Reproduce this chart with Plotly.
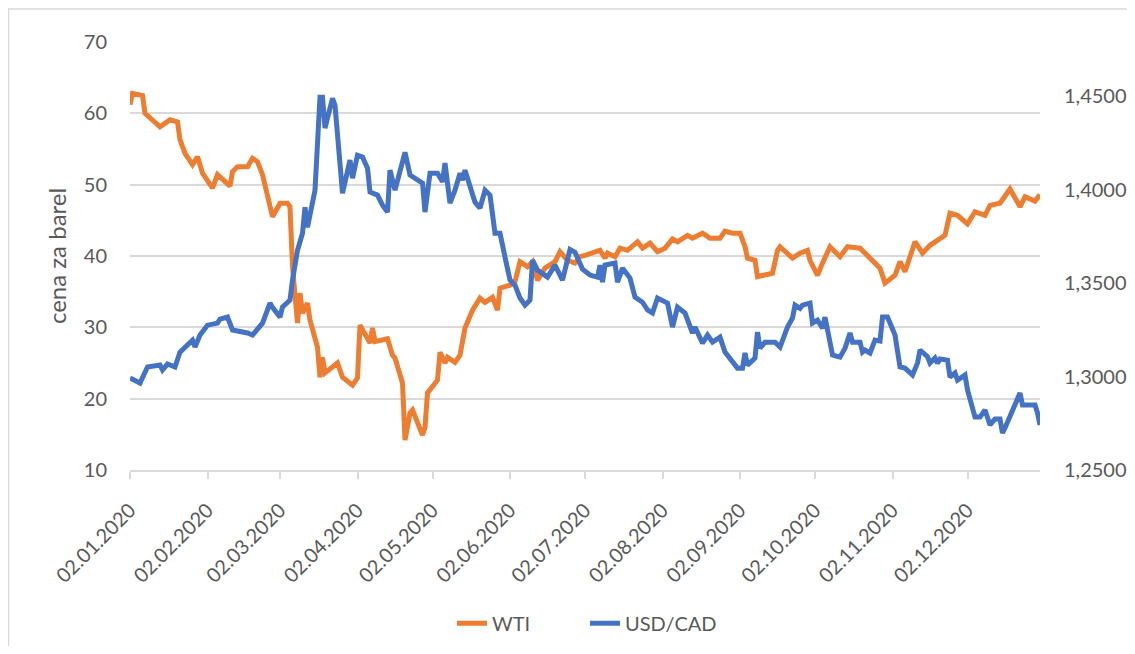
import plotly.graph_objects as go

# WTI (USD za barel), odczyt z wykresu
wti_days = ['01-02', '01-03', '01-07', '01-08', '01-14', '01-18', '01-21', '01-22', '01-24', '01-27',
            '01-29', '01-30', '01-31', '02-04', '02-06', '02-11', '02-12', '02-14', '02-18', '02-20',
            '02-22', '02-24', '02-26', '02-28', '03-02', '03-05', '03-06', '03-07', '03-09', '03-10',
            '03-11', '03-13', '03-14', '03-17', '03-18', '03-19', '03-20', '03-25', '03-27', '03-31',
            '04-02', '04-03', '04-07', '04-08', '04-09', '04-14', '04-16', '04-17', '04-20', '04-21',
            '04-23', '04-24', '04-28', '04-29', '04-30', '05-04', '05-05', '05-07', '05-08', '05-11',
            '05-13', '05-15', '05-18', '05-21', '05-23', '05-26', '05-28', '05-29', '06-02', '06-04',
            '06-06', '06-09', '06-11', '06-13', '06-16', '06-20', '06-22', '06-25', '06-28', '06-30',
            '07-02', '07-08', '07-10', '07-11', '07-14', '07-16', '07-19', '07-23', '07-25', '07-28',
            '07-31', '08-03', '08-06', '08-08', '08-12', '08-14', '08-18', '08-21', '08-25', '08-27',
            '08-30', '09-02', '09-04', '09-05', '09-08', '09-09', '09-15', '09-17', '09-18', '09-23',
            '09-26', '09-29', '09-30', '10-03', '10-05', '10-08', '10-12', '10-15', '10-20', '10-22',
            '10-27', '10-28', '10-30', '11-03', '11-05', '11-07', '11-11', '11-14', '11-17', '11-21',
            '11-23', '11-25', '11-28', '12-02', '12-05', '12-09', '12-11', '12-15', '12-19', '12-23',
            '12-25', '12-29', '12-31']
wti = [61.2, 62.8, 62.5, 60.0, 58.1, 59.1, 58.8, 56.3, 54.4, 52.8,
       53.9, 52.8, 51.6, 49.5, 51.4, 49.8, 51.8, 52.5, 52.5, 53.7,
       53.2, 51.4, 48.3, 45.5, 47.4, 47.4, 46.9, 38.5, 30.6, 34.8,
       32.0, 33.4, 31.0, 27.2, 23.0, 25.8, 23.6, 25.0, 23.0, 21.9,
       22.9, 30.3, 27.8, 29.9, 28.0, 28.4, 26.1, 25.7, 22.2, 14.2,
       18.0, 18.4, 14.9, 16.0, 20.8, 22.6, 26.5, 25.0, 25.8, 25.1,
       26.1, 29.9, 32.4, 34.1, 33.5, 34.2, 32.4, 35.5, 35.9, 36.4,
       39.2, 38.5, 39.2, 36.6, 38.3, 39.2, 40.6, 39.4, 39.0, 39.9,
       40.1, 40.8, 39.7, 40.4, 39.9, 41.1, 40.8, 42.0, 41.1, 41.8,
       40.6, 41.1, 42.4, 42.0, 42.9, 42.5, 43.2, 42.5, 42.5, 43.5,
       43.2, 43.2, 41.3, 39.7, 39.4, 37.1, 37.6, 40.8, 41.3, 39.7,
       40.4, 40.8, 39.4, 37.3, 39.0, 41.3, 39.9, 41.3, 41.1, 40.4,
       38.7, 38.3, 36.2, 37.3, 39.2, 37.8, 42.0, 40.4, 41.5, 42.5,
       42.9, 46.0, 45.7, 44.5, 46.2, 45.7, 47.1, 47.4, 49.4, 46.9,
       48.3, 47.7, 48.6]

# kurs USD/CAD
usd_days = ['01-02', '01-06', '01-09', '01-14', '01-15', '01-17', '01-20', '01-22', '01-27', '01-28',
            '01-30', '02-02', '02-06', '02-07', '02-10', '02-12', '02-18', '02-20', '02-24', '02-27',
            '02-28', '03-02', '03-03', '03-06', '03-07', '03-09', '03-11', '03-12', '03-13', '03-16',
            '03-18', '03-19', '03-20', '03-23', '03-24', '03-26', '03-27', '03-30', '03-31', '04-02',
            '04-04', '04-06', '04-07', '04-10', '04-12', '04-14', '04-15', '04-17', '04-19', '04-21',
            '04-23', '04-24', '04-28', '04-29', '05-01', '05-04', '05-06', '05-07', '05-09', '05-11',
            '05-13', '05-14', '05-15', '05-19', '05-21', '05-23', '05-25', '05-27', '05-29', '05-31',
            '06-02', '06-04', '06-06', '06-08', '06-10', '06-11', '06-13', '06-17', '06-20', '06-23',
            '06-26', '06-28', '07-01', '07-04', '07-07', '07-08', '07-09', '07-10', '07-14', '07-15',
            '07-17', '07-20', '07-22', '07-25', '07-27', '07-29', '07-31', '08-04', '08-06', '08-08',
            '08-11', '08-14', '08-15', '08-18', '08-20', '08-22', '08-25', '08-27', '08-29', '09-01',
            '09-03', '09-04', '09-05', '09-08', '09-09', '09-10', '09-12', '09-16', '09-18', '09-21',
            '09-23', '09-24', '09-26', '09-27', '09-30', '10-01', '10-03', '10-05', '10-06', '10-09',
            '10-12', '10-14', '10-16', '10-17', '10-20', '10-21', '10-22', '10-24', '10-26', '10-28',
            '10-29', '10-31', '11-03', '11-04', '11-05', '11-07', '11-10', '11-12', '11-13', '11-16',
            '11-17', '11-19', '11-20', '11-21', '11-24', '11-25', '11-27', '11-28', '12-01', '12-02',
            '12-05', '12-07', '12-09', '12-11', '12-13', '12-15', '12-16', '12-17', '12-19', '12-20',
            '12-23', '12-24', '12-29', '12-30', '12-31']
usdcad = [1.2992, 1.2965, 1.3051, 1.3062, 1.3035, 1.3067, 1.3051, 1.3131, 1.3195, 1.3158,
          1.3222, 1.3275, 1.3286, 1.3307, 1.3318, 1.3249, 1.3233, 1.3222, 1.3286, 1.3393,
          1.3370, 1.3318, 1.3372, 1.3409, 1.3516, 1.3676, 1.3767, 1.3906, 1.3799, 1.3997,
          1.4495, 1.4495, 1.4329, 1.4489, 1.4452, 1.4142, 1.3981, 1.4158, 1.4061, 1.4184,
          1.4175, 1.4115, 1.3987, 1.3971, 1.3917, 1.3880, 1.4104, 1.3997, 1.4088, 1.4200,
          1.4078, 1.4070, 1.4035, 1.3880, 1.4088, 1.4088, 1.4042, 1.4142, 1.3928, 1.3997,
          1.4088, 1.4051, 1.4104, 1.3933, 1.3901, 1.3997, 1.3971, 1.3767, 1.3767, 1.3639,
          1.3516, 1.3489, 1.3420, 1.3382, 1.3409, 1.3623, 1.3570, 1.3532, 1.3596, 1.3516,
          1.3680, 1.3665, 1.3575, 1.3543, 1.3532, 1.3596, 1.3505, 1.3596, 1.3607, 1.3505,
          1.3580, 1.3527, 1.3425, 1.3398, 1.3356, 1.3340, 1.3420, 1.3393, 1.3265, 1.3372,
          1.3340, 1.3233, 1.3265, 1.3179, 1.3222, 1.3184, 1.3211, 1.3131, 1.3100, 1.3045,
          1.3045, 1.3126, 1.3061, 1.3099, 1.3238, 1.3152, 1.3184, 1.3184, 1.3158, 1.3265,
          1.3313, 1.3382, 1.3365, 1.3382, 1.3393, 1.3286, 1.3302, 1.3259, 1.3318, 1.3115,
          1.3104, 1.3152, 1.3233, 1.3184, 1.3184, 1.3131, 1.3142, 1.3126, 1.3195, 1.3190,
          1.3318, 1.3318, 1.3222, 1.3131, 1.3051, 1.3045, 1.3008, 1.3072, 1.3142, 1.3106,
          1.3072, 1.3099, 1.3072, 1.3094, 1.3088, 1.2997, 1.3019, 1.2981, 1.3008, 1.2928,
          1.2783, 1.2783, 1.2821, 1.2741, 1.2773, 1.2773, 1.2698, 1.2725, 1.2783, 1.2821,
          1.2912, 1.2848, 1.2848, 1.2805, 1.2741]

month_ticks = ['2020-%02d-02' % m for m in range(1, 13)]
month_labels = ['02.%02d.2020' % m for m in range(1, 13)]
right_ticks = [1.25, 1.30, 1.35, 1.40, 1.45]
right_labels = ['1,2500', '1,3000', '1,3500', '1,4000', '1,4500']

FONT = 'Lato'
GREY = '#595959'
GRID = '#d9d9d9'

fig = go.Figure()
fig.add_trace(go.Scatter(x=['2020-' + d for d in wti_days], y=wti, name='WTI', mode='lines',
                         line=dict(color='#ED7D31', width=5)))
fig.add_trace(go.Scatter(x=['2020-' + d for d in usd_days], y=usdcad, name='USD/CAD', mode='lines',
                         line=dict(color='#4472C4', width=5), yaxis='y2'))

# strona ma 8px marginesu body, stad przesuniecie
fig.update_layout(
    width=1119, height=638,
    margin=dict(l=122, r=87, t=34, b=176, autoexpand=False),
    paper_bgcolor='white', plot_bgcolor='white',
    font=dict(family=FONT, size=20, color=GREY),
    showlegend=True,
    legend=dict(orientation='h', x=0.5, xanchor='center', y=-0.358, yanchor='middle',
                entrywidth=88, font=dict(size=20, color=GREY)),
    xaxis=dict(type='date', range=['2020-01-02', '2020-12-31'],
               tickvals=month_ticks, ticktext=month_labels, tickangle=-45,
               showgrid=False, showline=True, linecolor=GRID, linewidth=1.5,
               ticks='outside', ticklen=7, tickcolor=GRID, tickwidth=1.5, zeroline=False,
               ticklabelstandoff=12, automargin=False,
               tickfont=dict(size=20, color=GREY)),
    yaxis=dict(range=[10, 70], dtick=10, showgrid=True, gridcolor=GRID, gridwidth=1.5,
               zeroline=False, showline=False, ticks='outside', ticklen=18,
               tickcolor='rgba(0,0,0,0)', automargin=False,
               title=dict(text='cena za barel', font=dict(size=24, color=GREY), standoff=10),
               tickfont=dict(size=20, color=GREY)),
    yaxis2=dict(overlaying='y', side='right', range=[1.25, 1.479],
                tickvals=right_ticks, ticktext=right_labels, showgrid=False,
                zeroline=False, showline=False, ticks='outside', ticklen=19,
                tickcolor='rgba(0,0,0,0)', automargin=False,
                tickfont=dict(size=20, color=GREY)),
)

# ramka wokol calego wykresu
fig.add_shape(type='rect', xref='paper', yref='paper', x0=-0.1335, x1=1.2, y0=-0.6, y1=1.077,
              line=dict(color=GRID, width=1.5), fillcolor='rgba(0,0,0,0)', layer='below')

fig.write_html('out.html')
